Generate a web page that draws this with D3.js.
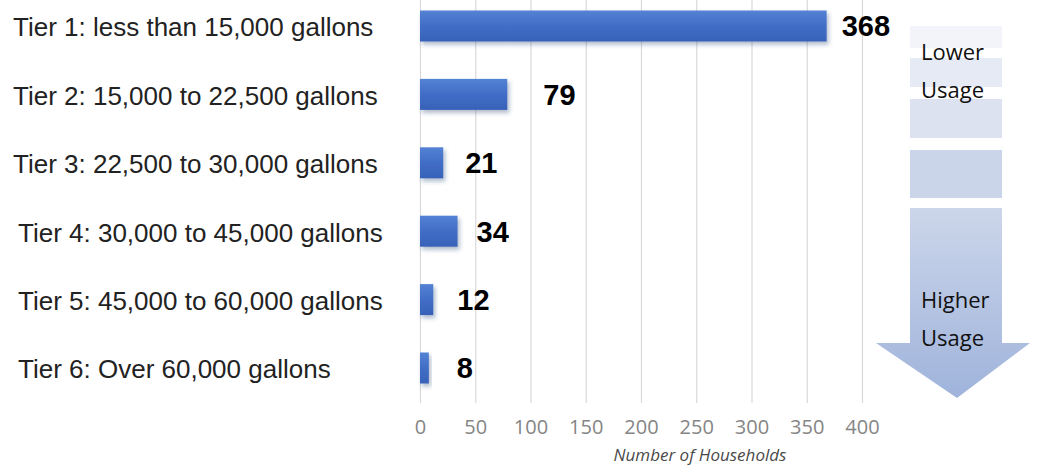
<!DOCTYPE html>
<html>
<head>
<meta charset="utf-8">
<script src="https://cdn.jsdelivr.net/npm/d3@7"></script>
<style>
  html, body { margin: 0; padding: 0; background: #fff; }
  svg { display: block; }
</style>
</head>
<body>
<div id="chart"></div>
<script>
// data
const tiers = [
  "Tier 1: less than 15,000 gallons",
  "Tier 2: 15,000 to 22,500 gallons",
  "Tier 3: 22,500 to 30,000 gallons",
  "Tier 4: 30,000 to 45,000 gallons",
  "Tier 5: 45,000 to 60,000 gallons",
  "Tier 6: Over 60,000 gallons"
];
const households = [368, 79, 21, 34, 12, 8];
const xTicks = [0, 50, 100, 150, 200, 250, 300, 350, 400];
const axisTitle = "Number of Households";
const arrowTop = ["Lower", "Usage"];
const arrowBottom = ["Higher", "Usage"];

// hand placement in the original slide
const labelShift = [0, 0, 0, 5, 5, 5];
const valueGap = [15, 36, 22, 19, 24, 28];

class makeChart {

    constructor(opts) {
        Object.assign(this, opts);
        this.update();
    }

    update() {
        this._setDimensions();
        this._setScales();
        this.draw();
    }

    _setDimensions() {
        this.width = 1037;
        this.height = 466;
    }

    _setScales() {
        this.xScale = d3.scaleLinear()
            .domain([0, 400])
            .range([420, 862]);

        this.yScale = d3.scalePoint()
            .domain(tiers)
            .range([26, 368]);

        this.barH = 31;
    }

    draw() {
        this.element.innerHTML = "";

        this.svg = d3.select(this.element).append("svg")
            .attr("width", this.width)
            .attr("height", this.height);

        const defs = this.svg.append("defs");

        const barGrad = defs.append("linearGradient")
            .attr("id", "barGrad")
            .attr("x1", 0).attr("y1", 0).attr("x2", 0).attr("y2", 1);
        barGrad.append("stop").attr("offset", "0%").attr("stop-color", "#5482d4");
        barGrad.append("stop").attr("offset", "50%").attr("stop-color", "#416dc6");
        barGrad.append("stop").attr("offset", "100%").attr("stop-color", "#3862b8");

        defs.append("filter")
            .attr("id", "shadow")
            .attr("x", "-20%").attr("y", "-30%").attr("width", "150%").attr("height", "170%")
            .append("feDropShadow")
            .attr("dx", 2).attr("dy", 3)
            .attr("stdDeviation", 2)
            .attr("flood-color", "#1f3a70")
            .attr("flood-opacity", 0.35);

        const arrowGrad = defs.append("linearGradient")
            .attr("id", "arrowGrad")
            .attr("x1", 0).attr("y1", 0).attr("x2", 0).attr("y2", 1);
        arrowGrad.append("stop").attr("offset", "0%").attr("stop-color", "#ccd6ea");
        arrowGrad.append("stop").attr("offset", "100%").attr("stop-color", "#9fb3db");

        // grid lines
        this.plot = this.svg.append("g").attr("class", "chart-g");

        this.xAxis = d3.axisBottom(this.xScale)
            .tickValues(xTicks)
            .tickSize(-403)
            .tickPadding(17);

        const ax = this.plot.append("g")
            .classed("axis x-axis", true)
            .attr("transform", "translate(0,403)")
            .call(this.xAxis);

        ax.select(".domain").remove();
        ax.selectAll(".tick line")
            .attr("stroke", "#d9d9d9")
            .attr("stroke-width", 1.2);
        ax.selectAll(".tick text")
            .attr("fill", "#858585")
            .style("font-family", "'Open Sans', sans-serif")
            .style("font-size", "20px");

        this.plot.append("text")
            .attr("x", 700)
            .attr("y", 461)
            .attr("text-anchor", "middle")
            .attr("fill", "#4a4a4a")
            .style("font-family", "'Open Sans', sans-serif")
            .style("font-style", "italic")
            .style("font-size", "17px")
            .text(axisTitle);

        // bars
        const rows = tiers.map((t, i) => ({ tier: t, value: households[i], i: i }));

        this.plot.selectAll(".bar")
            .data(rows)
            .join("rect")
            .attr("class", "bar")
            .attr("x", this.xScale(0))
            .attr("y", d => this.yScale(d.tier) - this.barH / 2)
            .attr("width", d => this.xScale(d.value) - this.xScale(0))
            .attr("height", this.barH)
            .attr("fill", "url(#barGrad)")
            .attr("filter", "url(#shadow)");

        this.plot.selectAll(".value")
            .data(rows)
            .join("text")
            .attr("class", "value")
            .attr("x", d => this.xScale(d.value) + valueGap[d.i])
            .attr("y", d => this.yScale(d.tier))
            .attr("dy", "0.36em")
            .attr("fill", "#000")
            .style("font-family", "'Liberation Sans', Arial, sans-serif")
            .style("font-weight", "bold")
            .style("font-size", "29px")
            .text(d => d.value);

        this.plot.selectAll(".tier")
            .data(rows)
            .join("text")
            .attr("class", "tier")
            .attr("x", d => 13 + labelShift[d.i])
            .attr("y", d => this.yScale(d.tier) + 1)
            .attr("dy", "0.36em")
            .attr("fill", "#222")
            .style("font-family", "'Liberation Sans', Arial, sans-serif")
            .style("font-size", "26px")
            .text(d => d.tier);

        this._drawArrow();
    }

    _drawArrow() {
        const g = this.svg.append("g").attr("class", "usage-arrow");
        const x0 = 910, x1 = 1002;

        const blocks = [
            { y: 26, h: 22, c: "#f2f4fa" },
            { y: 58, h: 29, c: "#e6eaf5" },
            { y: 99, h: 39, c: "#dce2f0" },
            { y: 150, h: 48, c: "#cbd5ea" }
        ];

        g.selectAll("rect")
            .data(blocks)
            .join("rect")
            .attr("x", x0)
            .attr("y", d => d.y)
            .attr("width", x1 - x0)
            .attr("height", d => d.h)
            .attr("fill", d => d.c);

        const path = d3.path();
        path.moveTo(x0, 208);
        path.lineTo(x1, 208);
        path.lineTo(x1, 343);
        path.lineTo(1030, 343);
        path.lineTo(957, 398);
        path.lineTo(876, 343);
        path.lineTo(x0, 343);
        path.closePath();

        g.append("path")
            .attr("d", path.toString())
            .attr("fill", "url(#arrowGrad)");

        const words = [
            { t: arrowTop[0], y: 52 },
            { t: arrowTop[1], y: 90 },
            { t: arrowBottom[0], y: 300 },
            { t: arrowBottom[1], y: 338 }
        ];

        g.selectAll("text")
            .data(words)
            .join("text")
            .attr("x", 921)
            .attr("y", d => d.y)
            .attr("dy", "0.36em")
            .attr("fill", "#111")
            .style("font-family", "'Open Sans', sans-serif")
            .style("font-size", "22px")
            .text(d => d.t);
    }
}

new makeChart({ element: document.getElementById("chart") });
</script>
</body>
</html>
